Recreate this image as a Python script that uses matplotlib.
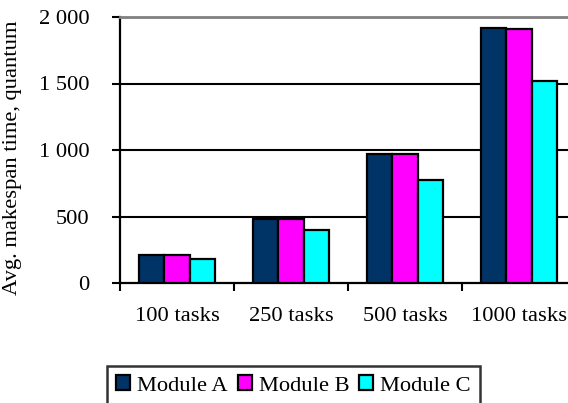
import matplotlib
matplotlib.use("Agg")
import matplotlib.pyplot as plt
from matplotlib.ticker import FuncFormatter, FixedLocator
import numpy as np

categories = ["100 tasks", "250 tasks", "500 tasks", "1000 tasks"]
module_a = [212, 478, 970, 1920]
module_b = [212, 484, 968, 1908]
module_c = [182, 401, 772, 1518]
series_names = ["Module A", "Module B", "Module C"]
series_colors = ["#003366", "#FF00FF", "#00FFFF"]
y_ticks = [0, 500, 1000, 1500, 2000]

plt.rcParams["font.family"] = ["Liberation Serif", "DejaVu Serif"]
FS = 16.2

W, H = 568, 403
fig = plt.figure(figsize=(W / 100, H / 100), dpi=100)
ax = fig.add_axes([120 / W, 1 - 283 / H, 456 / W, 266 / H])

x = np.arange(len(categories))
width = 0.22
for i, (vals, name, col) in enumerate(zip([module_a, module_b, module_c], series_names, series_colors)):
    ax.bar(x + (i - 1) * width, vals, width, color=col, edgecolor="black",
           linewidth=1.6, label=name, zorder=3)

ax.set_xlim(-0.5, len(categories) - 0.5)
ax.set_ylim(0, 2000)

# y axis
ax.set_yticks(y_ticks)
ax.yaxis.set_major_formatter(FuncFormatter(lambda v, p: f"{int(v):,}".replace(",", " ")))
ax.tick_params(axis="y", direction="out", length=6, width=1.5, pad=16, labelsize=FS)
ax.yaxis.grid(True, color="black", linewidth=1.5, zorder=1)
ax.set_axisbelow(True)
gl = ax.get_ygridlines()
gl[0].set_visible(False)
gl[-1].set_visible(False)

# x axis: ticks on category boundaries, labels centered
ax.xaxis.set_major_locator(FixedLocator(np.arange(len(categories) + 1) - 0.5))
ax.xaxis.set_major_formatter(FuncFormatter(lambda v, p: ""))
ax.xaxis.set_minor_locator(FixedLocator(x))
ax.set_xticklabels(categories, minor=True)
ax.tick_params(axis="x", which="major", direction="out", length=6, width=1.5)
ax.tick_params(axis="x", which="minor", length=0, pad=17, labelsize=FS)

for s in ["left", "bottom"]:
    ax.spines[s].set_linewidth(1.6)
    ax.spines[s].set_color("black")
ax.spines["right"].set_visible(False)
ax.spines["top"].set_color("#808080")
ax.spines["top"].set_linewidth(2)

ax.set_ylabel("Avg. makespan time, quantum", fontsize=FS)
ax.yaxis.set_label_coords(-0.215, 0.47)

leg = fig.legend(loc="upper left", bbox_to_anchor=(107 / W, 1 - 366 / H), ncol=3,
                 fontsize=FS, frameon=True, fancybox=False, edgecolor="black",
                 handlelength=0.62, handleheight=0.62, handletextpad=0.3,
                 columnspacing=0.45, borderpad=0.42, borderaxespad=0)
leg.get_frame().set_linewidth(1.8)

fig.savefig("out.png", dpi=100)
